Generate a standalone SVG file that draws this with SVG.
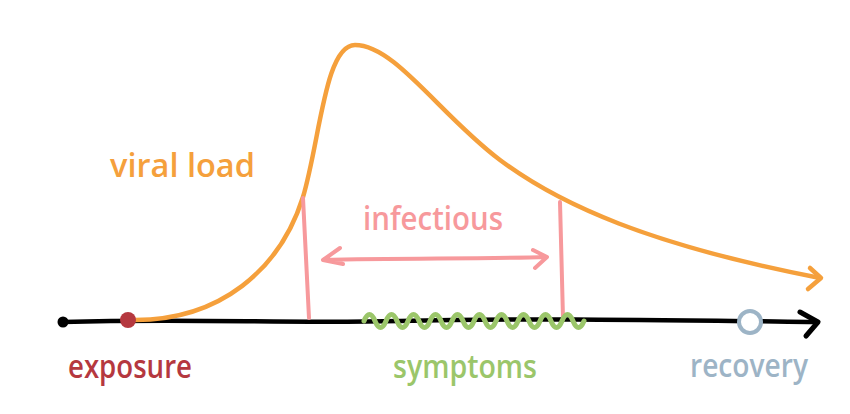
<svg xmlns="http://www.w3.org/2000/svg" width="850" height="414" viewBox="0 0 850 414">
<style>
.lbl{font-family:"Open Sans","Liberation Sans",sans-serif;font-weight:600;font-size:33px}
.ln{fill:none;stroke-linecap:round;stroke-linejoin:round}
</style>
<rect width="850" height="414" fill="#ffffff"/>
<g id="connectors">
  <path id="axis" class="ln" stroke="#000" stroke-width="4.5" d="M 63 322 C 200 318, 280 324, 400 321 S 650 320, 816 322"/>
  <path id="axis-head" class="ln" stroke="#000" stroke-width="5" d="M 800 312 L 818 322 L 806 336"/>
  <path id="viral-curve" class="ln" stroke="#f5a03c" stroke-width="4.5" d="M 135 320 C 220 320, 280 270, 303 197 C 320 140, 325 45, 355 45 C 395 45, 440 115, 500 160 C 560 205, 650 245, 820 278"/>
  <path id="viral-head" class="ln" stroke="#f5a03c" stroke-width="4.5" d="M 810 268 L 821 278 L 808 289"/>
  <path id="infect-left" class="ln" stroke="#f7999c" stroke-width="4" d="M 303 198 L 309 318"/>
  <path id="infect-right" class="ln" stroke="#f7999c" stroke-width="4" d="M 560 202 L 563 318"/>
  <path id="infect-arrow" class="ln" stroke="#f7999c" stroke-width="4" d="M 323 260 C 400 258, 480 259, 547 257 M 340 248 L 323 260 L 343 264 M 533 250 L 547 257 L 535 268"/>
  <path id="symptom-wave" class="ln" stroke="#9bc66a" stroke-width="5" d="M 364 321 q 5.5 -13 11 0 t 11 0 t 11 0 t 11 0 t 11 0 t 11 0 t 11 0 t 11 0 t 11 0 t 11 0 t 11 0 t 11 0 t 11 0 t 11 0 t 11 0 t 11 0 t 11 0 t 11 0 t 11 0 t 11 0"/>
</g>
<g id="start"><circle cx="63" cy="322" r="5.5" fill="#000"/></g>
<g id="exposure">
  <circle cx="128" cy="320" r="8" fill="#b5383f"/>
  <text class="lbl" x="68" y="378" fill="#b5383f" textLength="124" lengthAdjust="spacingAndGlyphs">exposure</text>
</g>
<g id="viral-load">
  <text class="lbl" x="110" y="177" fill="#f5a03c" textLength="145" lengthAdjust="spacingAndGlyphs">viral load</text>
</g>
<g id="infectious">
  <text class="lbl" x="363" y="230" fill="#f7999c" font-size="35" textLength="140" lengthAdjust="spacingAndGlyphs">infectious</text>
</g>
<g id="symptoms">
  <text class="lbl" x="393" y="378" fill="#9bc66a" textLength="144" lengthAdjust="spacingAndGlyphs">symptoms</text>
</g>
<g id="recovery">
  <circle cx="750" cy="322" r="11" fill="#ffffff" stroke="#9db4c6" stroke-width="4"/>
  <text class="lbl" x="690" y="377" fill="#9db4c6" textLength="118" lengthAdjust="spacingAndGlyphs">recovery</text>
</g>
</svg>
